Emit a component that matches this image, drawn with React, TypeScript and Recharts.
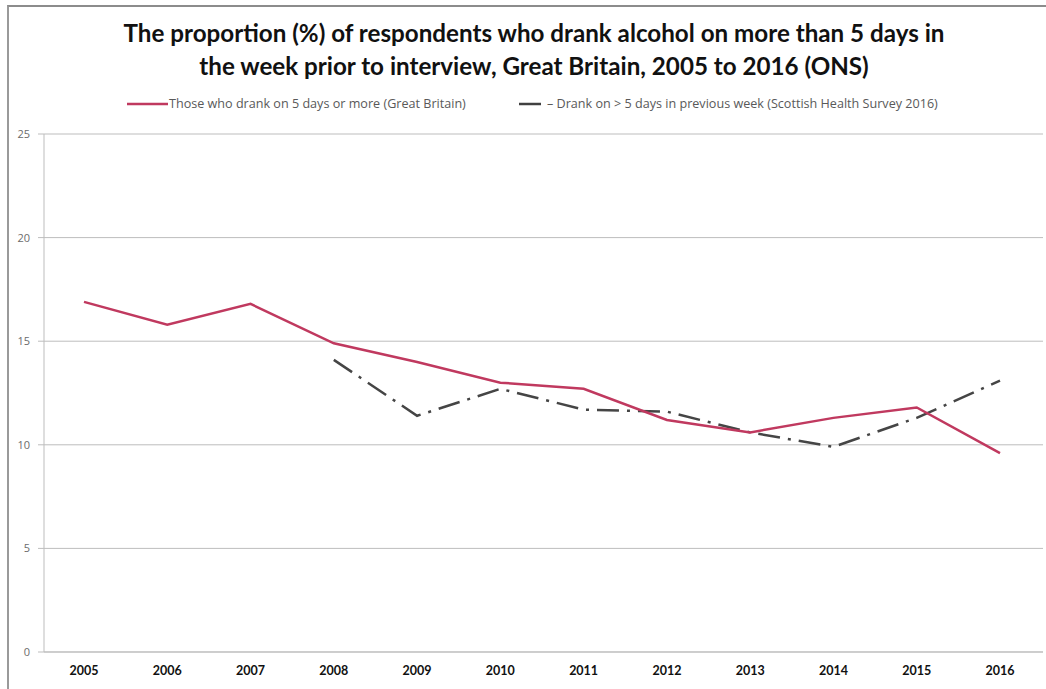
import { CartesianGrid, Legend, Line, LineChart, XAxis, YAxis } from "recharts";

const years = ["2005", "2006", "2007", "2008", "2009", "2010", "2011", "2012", "2013", "2014", "2015", "2016"];
const gbValues = [16.9, 15.8, 16.8, 14.9, 14.0, 13.0, 12.7, 11.2, 10.6, 11.3, 11.8, 9.6];
const scotValues = [null, null, null, 14.1, 11.4, 12.7, 11.7, 11.6, 10.6, 9.9, 11.3, 13.1];
const yTicks = [0, 5, 10, 15, 20, 25];

const gbName = "Those who drank on 5 days or more (Great Britain)";
const scotName = "– Drank on > 5 days in previous week (Scottish Health Survey 2016)";

const data = years.map((y, i) => ({ year: y, gb: gbValues[i], scot: scotValues[i] }));

function LegendRow() {
  const txt = { fontSize: 12.6, color: "#595959", fontFamily: "'Open Sans', sans-serif" };
  return (
    <div style={{ position: "relative", height: 16 }}>
      <div style={{ position: "absolute", left: 127, top: 0, display: "flex", alignItems: "center" }}>
        <svg width={41} height={10}>
          <line x1={0} y1={5} x2={41} y2={5} stroke="#c0395f" strokeWidth={2.5} />
        </svg>
        <span style={{ ...txt, marginLeft: 1 }}>{gbName}</span>
      </div>
      <div style={{ position: "absolute", left: 519, top: 0, display: "flex", alignItems: "center" }}>
        <svg width={22} height={10}>
          <line x1={0} y1={5} x2={22} y2={5} stroke="#404040" strokeWidth={2.5} />
        </svg>
        <span style={{ ...txt, marginLeft: 6 }}>{scotName}</span>
      </div>
    </div>
  );
}

export default function App() {
  return (
    <div style={{ position: "absolute", left: 0, top: 0, width: 1046, height: 689, background: "#fff", overflow: "hidden" }}>
      <div style={{ position: "absolute", left: 7, top: 5, right: 0, bottom: 0, borderTop: "2px solid #8c8c8c", borderLeft: "2px solid #9a9a9a" }} />
      <div
        style={{
          position: "absolute",
          left: 0,
          width: 1068,
          top: 16,
          textAlign: "center",
          fontFamily: "Lato, sans-serif",
          fontWeight: 700,
          fontSize: 24.2,
          lineHeight: "33px",
          color: "#111",
        }}
      >
        The proportion (%) of respondents who drank alcohol on more than 5 days in
        <br />
        the week prior to interview, Great Britain, 2005 to 2016 (ONS)
      </div>
      <div style={{ position: "absolute", left: 0, top: 0 }}>
        <LineChart width={1046} height={689} data={data} margin={{ top: 118, right: 3, left: 0, bottom: 0 }}>
          <CartesianGrid vertical={false} stroke="#bdbdbd" />
          <XAxis
            dataKey="year"
            stroke="#bdbdbd"
            tickLine={false}
            padding={{ left: 40, right: 43 }}
            tick={{ fontSize: 12.5, fontWeight: 700, fill: "#111", fontFamily: "Lato, sans-serif" }}
            tickMargin={8}
            height={37}
          />
          <YAxis
            domain={[0, 25]}
            ticks={yTicks}
            stroke="#bdbdbd"
            tickSize={6}
            tickMargin={8}
            width={44}
            tick={{ fontSize: 11, fill: "#6b6b6b", fontFamily: "'Open Sans', sans-serif" }}
          />
          <Legend
            verticalAlign="top"
            wrapperStyle={{ top: 95, left: 0, width: 1046 }}
            content={() => <LegendRow />}
          />
          <Line
            dataKey="scot"
            name={scotName}
            stroke="#454545"
            strokeWidth={2.5}
            strokeDasharray="22 8 3 8"
            dot={false}
            activeDot={false}
            isAnimationActive={false}
          />
          <Line
            dataKey="gb"
            name={gbName}
            stroke="#c0395f"
            strokeWidth={2.5}
            dot={false}
            activeDot={false}
            isAnimationActive={false}
          />
        </LineChart>
      </div>
    </div>
  );
}
